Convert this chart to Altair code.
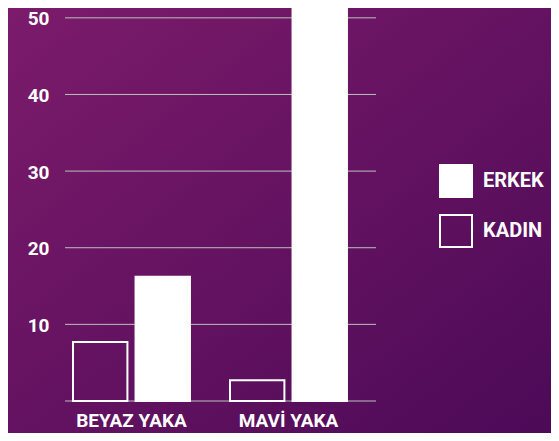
import altair as alt
import pandas as pd

categories = ["BEYAZ YAKA", "MAVİ YAKA"]
genders = ["KADIN", "ERKEK"]
kadin = [7.7, 2.7]
erkek = [16.2, 56.0]
grid_values = [0, 10, 20, 30, 40, 50]

rows = []
for i, c in enumerate(categories):
    rows.append({"group": c, "gender": "KADIN", "value": kadin[i]})
    rows.append({"group": c, "gender": "ERKEK", "value": erkek[i]})
df = pd.DataFrame(rows)
grid_df = pd.DataFrame({"v": grid_values})

W, H = 311, 387
PAD = {"left": 57, "top": 6, "right": 175, "bottom": 32}
FONT = "Roboto"

yscale = alt.Scale(domain=[0, 50.5], nice=False, zero=True)
yaxis = alt.Axis(values=grid_values, title=None, domain=False, ticks=False,
                 grid=False, labelExpr="datum.value == 0 ? '' : datum.label",
                 labelFont=FONT, labelFontWeight="bold", labelFontSize=19,
                 labelColor="white", labelPadding=16, labelOffset=1, zindex=1)

bg = alt.Chart(pd.DataFrame({"a": [0]})).mark_rect(
    fill=alt.Gradient(
        gradient="linear",
        stops=[alt.GradientStop(color="#7c1b6b", offset=0),
               alt.GradientStop(color="#4c0a57", offset=1)],
        x1=0, y1=0, x2=1, y2=1,
    )
).encode(
    x=alt.value(-PAD["left"]), x2=alt.value(W + PAD["right"]),
    y=alt.value(-PAD["top"]), y2=alt.value(H + PAD["bottom"]),
)

grid = alt.Chart(grid_df).mark_rule(color="#b9c1bb", strokeWidth=1).encode(
    y=alt.Y("v:Q", scale=yscale, axis=yaxis)
)

bars = alt.Chart(df).mark_bar(clip=False, stroke="white", strokeWidth=2).encode(
    x=alt.X("group:N", sort=categories,
            scale=alt.Scale(paddingInner=0.255, paddingOuter=0.118, align=0.216),
            axis=alt.Axis(title=None, labelAngle=0, domain=False, ticks=False,
                          labelFont=FONT, labelFontWeight="bold", labelFontSize=19,
                          labelColor="white", labelPadding=10, zindex=1)),
    xOffset=alt.XOffset("gender:N", sort=genders,
                        scale=alt.Scale(paddingInner=0.13, paddingOuter=0)),
    y=alt.Y("value:Q", scale=yscale, axis=yaxis),
    fill=alt.Fill("gender:N",
                  scale=alt.Scale(domain=["ERKEK", "KADIN"], range=["#ffffff", "transparent"]),
                  legend=alt.Legend(title=None, orient="none", legendX=374, legendY=150,
                                    symbolType="square", symbolSize=1024,
                                    symbolStrokeColor="white", symbolStrokeWidth=2,
                                    labelFont=FONT, labelFontWeight="bold", labelFontSize=20,
                                    labelColor="white", labelOffset=10, rowPadding=10,
                                    padding=0, zindex=1)),
)

chart = alt.layer(bg, grid, bars).properties(
    width=W, height=H,
    autosize=alt.AutoSizeParams(type="none"),
    padding=PAD,
    background="#63105e",
).configure_view(stroke=None)

chart.save("out.html", embed_options={"renderer": "svg", "actions": False})
